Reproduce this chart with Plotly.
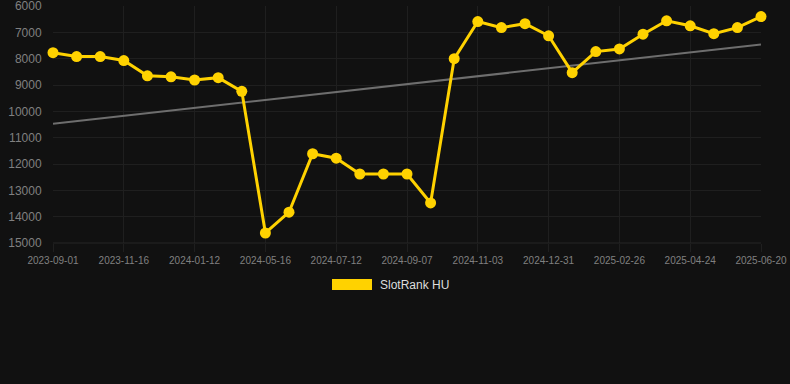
import numpy as np
import plotly.graph_objects as go

dates = ["2023-09-01", "2023-09-26", "2023-10-21", "2023-11-16", "2023-12-05", "2023-12-24",
         "2024-01-12", "2024-02-22", "2024-04-04", "2024-05-16", "2024-06-04", "2024-06-23",
         "2024-07-12", "2024-07-31", "2024-08-19", "2024-09-07", "2024-09-26", "2024-10-15",
         "2024-11-03", "2024-11-22", "2024-12-12", "2024-12-31", "2025-01-19", "2025-02-07",
         "2025-02-26", "2025-03-17", "2025-04-05", "2025-04-24", "2025-05-13", "2025-06-01",
         "2025-06-20"]
ranks = [7770, 7920, 7920, 8070, 8650, 8690, 8810, 8720, 9240, 14620, 13830, 11610,
         11780, 12380, 12380, 12380, 13480, 8000, 6590, 6820, 6670, 7130, 8530, 7730,
         7630, 7070, 6560, 6750, 7050, 6820, 6400]
tick_labels = dates[::3]
y_ticks = [6000, 7000, 8000, 9000, 10000, 11000, 12000, 13000, 14000, 15000]

idx = np.arange(len(ranks))
slope, intercept = np.polyfit(idx, ranks, 1)
trend = slope * idx + intercept

fig = go.Figure()
fig.add_trace(go.Scatter(x=dates, y=trend, mode="lines",
                         line=dict(color="#6e6e6e", width=2), showlegend=False, hoverinfo="skip"))
fig.add_trace(go.Scatter(x=dates, y=ranks, mode="lines+markers", name="SlotRank HU",
                         line=dict(color="#FFD200", width=3),
                         marker=dict(color="#FFD200", size=11), showlegend=False,
                         cliponaxis=False))

grid = "#1f1f1f"
fig.update_layout(
    width=790, height=384,
    paper_bgcolor="#111111", plot_bgcolor="#111111",
    margin=dict(l=53, r=29, t=6, b=141, autoexpand=False),
    font=dict(family="Liberation Sans, Arial, sans-serif", color="#808080"),
    xaxis=dict(type="category", range=[0, len(dates) - 1], tickmode="array",
               tickvals=tick_labels, ticktext=tick_labels, automargin=False,
               showgrid=True, gridcolor=grid, gridwidth=1, zeroline=False,
               tickfont=dict(size=10, color="#808080"), ticklabeloverflow="allow",
               ticks="outside", ticklen=8, tickcolor=grid, showline=False),
    yaxis=dict(range=[15000, 5999], tickmode="array", tickvals=y_ticks,
               ticktext=[str(v) for v in y_ticks], automargin=False,
               showgrid=True, gridcolor=grid, gridwidth=1, zeroline=False,
               tickfont=dict(size=12, color="#808080"), ticklabeloverflow="allow",
               ticks="outside", ticklen=8, tickcolor="rgba(0,0,0,0)", showline=False),
    shapes=[dict(type="rect", xref="paper", yref="paper",
                 x0=(332 - 53) / 708, x1=(372 - 53) / 708,
                 y0=-(290 - 243) / 237, y1=-(279 - 243) / 237,
                 fillcolor="#FFD200", line=dict(width=0)),
            dict(type="line", xref="paper", yref="paper", x0=0, x1=1, y0=0, y1=0,
                 line=dict(color="#262626", width=1))],
    annotations=[dict(text="SlotRank HU", xref="paper", yref="paper",
                      x=(378 - 53) / 708, y=-(284.5 - 243) / 237,
                      xanchor="left", yanchor="middle", showarrow=False,
                      font=dict(size=12, color="#dddddd"))],
)
fig.write_html("out.html", config={"displayModeBar": False},
               post_script="document.body.style.margin='0';document.body.style.background='#111111';")
